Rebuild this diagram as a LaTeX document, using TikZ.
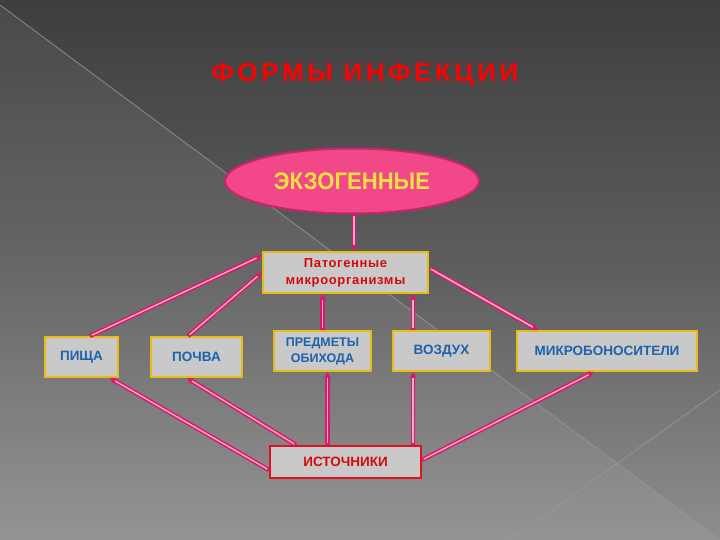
\documentclass[tikz,border=0pt]{standalone}
\usepackage{fontspec}
\usepackage{graphicx}
\setmainfont{Liberation Sans}
\newfontfamily\titlefont[LetterSpace=14]{Liberation Sans Bold}
\newfontfamily\lblfont{Liberation Sans Bold}
\newfontfamily\patfont[LetterSpace=5]{Liberation Sans Bold}
\usetikzlibrary{arrows.meta,shapes.geometric}
\definecolor{bgtop}{HTML}{3E3E3E}
\definecolor{bgmid}{HTML}{5E5E5E}
\definecolor{bgbot}{HTML}{8E8E8E}
\definecolor{exofill}{HTML}{F2488A}
\definecolor{exodraw}{HTML}{C8246A}
\definecolor{exotext}{HTML}{F2E040}
\definecolor{boxfill}{HTML}{C9C9C9}
\definecolor{boxgold}{HTML}{E8BC10}
\definecolor{txtblue}{HTML}{1C62AC}
\definecolor{txtred}{HTML}{D40A0A}
\definecolor{srcred}{HTML}{E01020}
\definecolor{linkpink}{HTML}{D81A6E}
\definecolor{linklight}{HTML}{F6A8C6}
\definecolor{diag}{HTML}{9A9A9A}
\tikzset{
  box/.style={draw=boxgold, line width=2pt, fill=boxfill, inner sep=1pt,
    minimum height=40pt, align=center, text=txtblue, font=\lblfont\fontsize{13.5}{16}\selectfont},
  srcbox/.style={box, draw=srcred, text=txtred, minimum height=32pt},
  tip/.style={-{Stealth[length=6pt,width=7pt]}},
  link/.style={draw=linkpink, line width=4.4pt, tip,
    postaction={draw=linklight, line width=1.4pt, -, shorten >=6pt, shorten <=2pt}},
  linkb/.style={link, {Stealth[length=6pt,width=7pt]}-{Stealth[length=6pt,width=7pt]},
    postaction={draw=linklight, line width=1.4pt, -, shorten >=6pt, shorten <=6pt}}
}
\begin{document}
\begin{tikzpicture}[x=1pt,y=-1pt]
\useasboundingbox (0,0) rectangle (720,540);
% background
\shade[top color=bgtop, bottom color=bgbot, middle color=bgmid] (0,0) rectangle (720,540);
\fill[white, opacity=0.06] (0,5) -- (720,540) -- (0,540) -- cycle;
\draw[diag, line width=0.8pt, opacity=0.8] (0,5) -- (720,540);
\draw[diag, line width=0.8pt, opacity=0.8] (720,390) -- (510,540);
% title
\node[text=red, font=\titlefont\fontsize{26}{30}\selectfont] (title) at (365,75) {ФОРМЫ ИНФЕКЦИИ};
% ellipse
\node[ellipse, draw=exodraw, line width=2pt, fill=exofill, minimum width=254pt, minimum height=65pt, inner sep=0pt,
  text=exotext, font=\lblfont\fontsize{24}{28}\selectfont] (exo) at (352,181) {\scalebox{0.92}[1]{ЭКЗОГЕННЫЕ}};
% boxes
\node[box, minimum width=165pt, minimum height=41pt, text=txtred, font=\patfont\fontsize{13}{17}\selectfont] (pat) at (345.5,272.5)
  {Патогенные\\микроорганизмы};
\node[box, minimum width=73pt] (food) at (81.5,357) {ПИЩА};
\node[box, minimum width=91pt] (soil) at (196.5,357) {ПОЧВА};
\node[box, minimum width=97pt, font=\lblfont\fontsize{12.5}{16}\selectfont] (items) at (322.5,351) {ПРЕДМЕТЫ\\ОБИХОДА};
\node[box, minimum width=97pt] (air) at (441.5,351) {ВОЗДУХ};
\node[box, minimum width=180pt] (carr) at (607,351) {МИКРОБОНОСИТЕЛИ};
\node[srcbox, minimum width=151pt] (src) at (345.5,462) {ИСТОЧНИКИ};
% connectors
\draw[link] ([xshift=2pt]exo.south) -- ([xshift=2pt]exo.south |- pat.north);
\draw[link] ([xshift=8.5pt]food.north) -- ([yshift=17pt]pat.west);
\draw[link] ([xshift=-8.5pt]soil.north) -- ([yshift=0pt]pat.west);
\draw[link] (items.north) -- (items.north |- pat.south);
\draw[link] ([xshift=-28.5pt]air.north) -- ([xshift=-28.5pt]air.north |- pat.south);
\draw[linkb] ([yshift=4.5pt]pat.east) -- ([xshift=-69pt]carr.north);
\draw[link] ([yshift=-8pt]src.west) -- ([xshift=28.5pt]food.south);
\draw[link] ([xshift=-49.5pt]src.north) -- ([xshift=-9.5pt]soil.south);
\draw[link, line width=5.4pt] ([xshift=5pt]items.south |- src.north) -- ([xshift=5pt]items.south);
\draw[link] ([xshift=-28.5pt]air.south |- src.north) -- ([xshift=-28.5pt]air.south);
\draw[link] ([yshift=2pt]src.east) -- ([xshift=-13pt]carr.south);
\end{tikzpicture}
\end{document}
